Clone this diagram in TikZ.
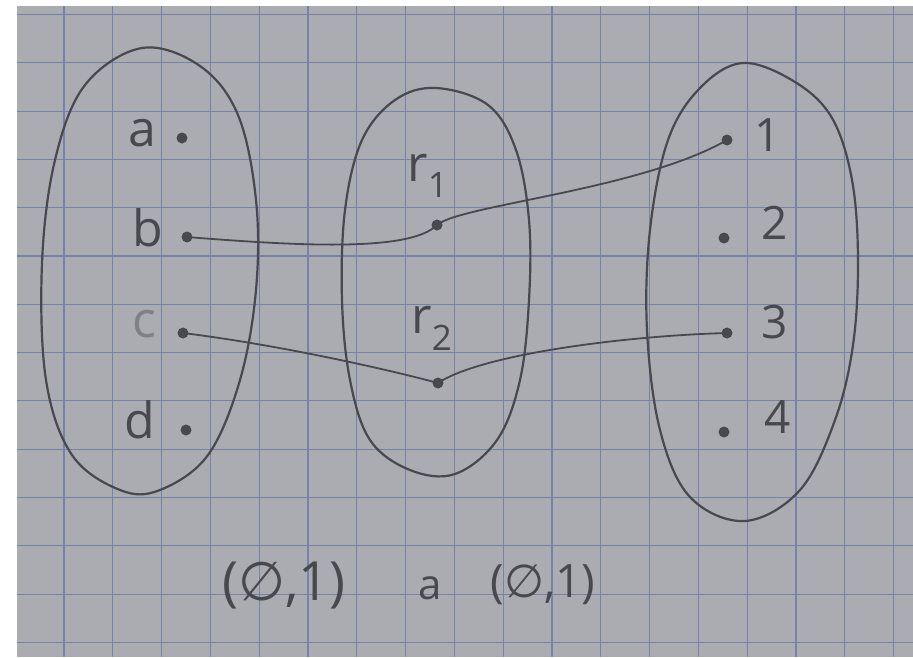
\documentclass[tikz,border=0pt]{standalone}
\usepackage{fontspec}
\setmainfont{Open Sans}
\newfontfamily\dvfont{DejaVu Sans}
\begin{document}
\begin{tikzpicture}[x=1pt,y=-1pt,
  pencil/.style={draw=pen,line width=2.2pt,line cap=round,line join=round},
  wire/.style={draw=pen,line width=1.8pt,line cap=round},
  dotpt/.style={circle,fill=pen,inner sep=0pt,minimum size=11pt},
  lbl/.style={text=pen,inner sep=0pt,font=\fontsize{50}{50}\selectfont},
  num/.style={text=pen,inner sep=0pt,font=\fontsize{46}{46}\selectfont},
  big/.style={text=pen,inner sep=0pt,font=\fontsize{54}{54}\selectfont},
  gridl/.style={draw=gridc,line width=1.1pt}]
\definecolor{paper}{RGB}{170,172,178}
\definecolor{gridc}{RGB}{120,130,166}
\definecolor{pen}{RGB}{72,72,78}
\definecolor{penlight}{RGB}{128,128,134}
\useasboundingbox (0,0) rectangle (913,657);
\fill[white] (0,0) rectangle (913,657);
\fill[paper] (17,6) rectangle (913,657);
% grid
\foreach \k in {0,...,17} { \draw[gridl] ({64+48.8*\k},6) -- ({64+48.8*\k},657); }
\foreach \k in {0,...,13} { \draw[gridl] (17,{14.5+48.3*\k}) -- (913,{14.5+48.3*\k}); }
% sets
\draw[pencil] plot[smooth cycle,tension=0.6] coordinates {(142,48) (200,66) (238,115) (256,200) (256,290) (240,380) (208,455) (160,490) (120,490) (72,455) (46,380) (42,263) (55,160) (85,85)};
\draw[pencil] plot[smooth cycle,tension=0.6] coordinates {(436,88) (488,105) (516,150) (529,220) (529,300) (520,380) (497,440) (455,474) (410,470) (370,440) (350,380) (342,300) (345,210) (362,140) (395,100)};
\draw[pencil] plot[smooth cycle,tension=0.6] coordinates {(743,63) (795,82) (832,118) (852,180) (858,260) (853,345) (835,420) (800,490) (745,521) (690,497) (660,430) (647,330) (650,230) (668,140) (700,88)};
% points
\node[dotpt] (a) at (182,138) {};
\node[dotpt] (b) at (187,237) {};
\node[dotpt] (c) at (183,333) {};
\node[dotpt] (d) at (186,430) {};
\node[dotpt] (r1) at (437,225) {};
\node[dotpt] (r2) at (438,383) {};
\node[dotpt] (n1) at (727,140) {};
\node[dotpt] (n2) at (724,238) {};
\node[dotpt] (n3) at (727,333) {};
\node[dotpt] (n4) at (724,432) {};
% labels
\node[lbl] (la) at (142,133) {a};
\node[lbl] (lb) at (148,228) {b};
\node[lbl,text=penlight] (lc) at (144,324) {c};
\node[lbl] (ld) at (140,420) {d};
\node[lbl] (lr1) at (428,176) {r\textsubscript{1}};
\node[lbl] (lr2) at (432,328) {r\textsubscript{2}};
\node[num] (l1) at (768,135) {1};
\node[num] (l2) at (775,223) {2};
\node[num] (l3) at (775,322) {3};
\node[num] (l4) at (778,417) {4};
% connectors
\draw[wire] (b.center) .. controls (300,246) and (410,252) .. (r1.center);
\draw[wire] (r1.center) .. controls (460,205) and (640,190) .. (n1.center);
\draw[wire] (c.center) .. controls (280,345) and (390,370) .. (r2.center);
\draw[wire] (r2.center) .. controls (480,355) and (620,336) .. (n3.center);
% bottom text
\node[big] (pl) at (284,585) {({\dvfont ∅},1)};
\node[text=pen,inner sep=0pt,font=\fontsize{42}{42}\selectfont] (pa) at (430,588) {a};
\node[text=pen,inner sep=0pt,font=\fontsize{46}{46}\selectfont] (pr) at (543,585) {({\dvfont ∅},1)};
\end{tikzpicture}
\end{document}
